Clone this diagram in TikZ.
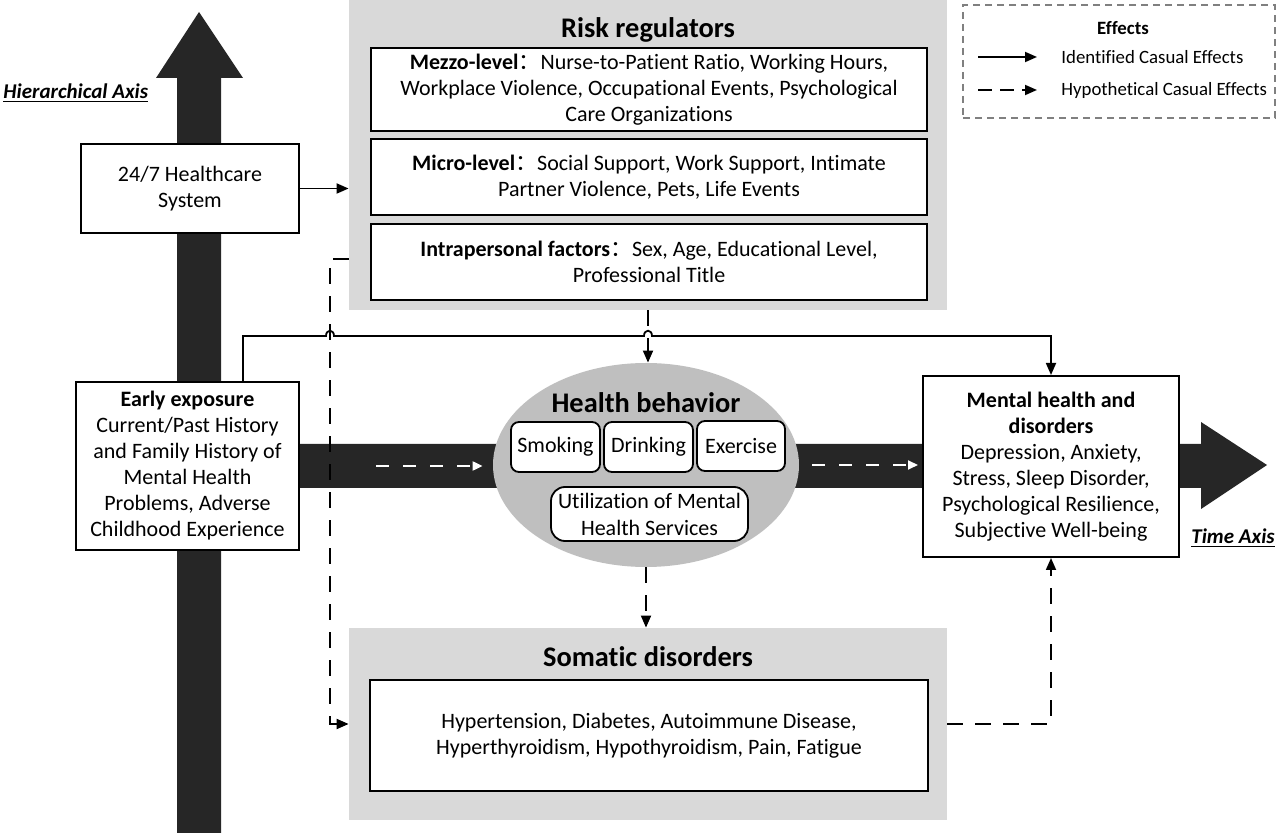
\documentclass[tikz,border=0pt]{standalone}
\usepackage{fontspec}
\setmainfont{Carlito}[Ligatures=NoCommon]
\newfontfamily\cjk{Noto Sans CJK SC}
\usepackage{tikz}
\usetikzlibrary{arrows.meta,calc,shapes.geometric}
\definecolor{axisdark}{RGB}{38,38,38}
\definecolor{regbg}{RGB}{217,217,217}
\definecolor{hbbg}{RGB}{191,191,191}
\definecolor{legendline}{RGB}{128,128,128}

\begin{document}
\begin{tikzpicture}[x=0.5pt,y=0.5pt,yscale=-1,xscale=1,
  box/.style={draw,fill=white,line width=1pt,align=center,inner sep=0pt,font=\fontsize{11}{13}\selectfont},
  panel/.style={fill=regbg,inner sep=0pt},
  pill/.style={draw,fill=white,line width=0.9pt,rounded corners=4pt,align=center,inner sep=0pt,font=\fontsize{11}{13.5}\selectfont},
  paneltitle/.style={font=\fontsize{14.2}{16}\selectfont\bfseries},
  link/.style={line width=0.9pt,-{Triangle[length=6pt,width=5pt]}},
  hypo/.style={link,dash pattern=on 8pt off 6pt},
  wlink/.style={white,line width=1pt,dash pattern=on 6.5pt off 7pt,-{Triangle[length=5pt,width=4.5pt]}},
  axislabel/.style={anchor=west,inner sep=0pt,font=\fontsize{10.5}{12}\selectfont\bfseries\itshape},
  legtext/.style={anchor=west,inner sep=0pt,font=\fontsize{9.4}{11}\selectfont}]
\useasboundingbox (0,0) rectangle (1280,833);

%Hierarchical axis arrow
\fill[axisdark] (177,833) -- (177,78) -- (156,78) -- (199,12) -- (243,78) -- (221,78) -- (221,833) -- cycle;
%Time axis arrow
\fill[axisdark] (290,444) -- (1201,444) -- (1201,422) -- (1267,465) -- (1201,509) -- (1201,488) -- (290,488) -- cycle;

% Axis labels
\node[axislabel] (haxis) at (3,93) {\underline{Hierarchical Axis}};
\node[axislabel] (taxis) at (1191,538) {\underline{Time Axis}};

% Risk regulators
\node[panel,minimum width=299pt,minimum height=155pt] (risk) at (648,155) {};
\node[paneltitle] (risktitle) at (648,30) {Risk regulators};
\node[box,minimum width=278pt,minimum height=41.5pt] (mezzo) at (649,89.5) {\textbf{Mezzo-level}{\cjk ：}Nurse-to-Patient Ratio, Working Hours,\\Workplace Violence, Occupational Events, Psychological\\Care Organizations};
\node[box,minimum width=278pt,minimum height=38pt] (micro) at (649,177) {\textbf{Micro-level}{\cjk ：}Social Support, Work Support, Intimate\\Partner Violence, Pets, Life Events};
\node[box,minimum width=278pt,minimum height=38pt] (intra) at (649,262) {\textbf{Intrapersonal factors}{\cjk ：}Sex, Age, Educational Level,\\Professional Title};

% Text Node
\node[box,minimum width=109pt,minimum height=44.5pt] (hcs) at (190,188.5) {24/7 Healthcare\\System};
% Text Node
\node[box,minimum width=111.5pt,minimum height=84pt] (early) at (187.5,466) {\textbf{Early exposure}\\Current/Past History\\and Family History of\\Mental Health\\Problems, Adverse\\Childhood Experience};

% Health behavior
\node[ellipse,fill=hbbg,minimum width=153pt,minimum height=102pt,inner sep=0pt] (hb) at (646,465) {};
\node[paneltitle] (hbtitle) at (646,403) {Health behavior};
\node[pill,minimum width=44.5pt,minimum height=25pt] (smoking) at (555.5,447) {Smoking};
\node[pill,minimum width=44.5pt,minimum height=25pt] (drinking) at (648.5,447) {Drinking};
\node[pill,minimum width=44pt,minimum height=25pt] (exercise) at (741,446) {Exercise};
\node[pill,minimum width=98.5pt,minimum height=27pt,rounded corners=7pt] (util) at (649.5,514) {Utilization of Mental\\Health Services};

% Text Node
\node[box,minimum width=128pt,minimum height=90.5pt] (mental) at (1051,466.5) {\textbf{Mental health and}\\\textbf{disorders}\\Depression, Anxiety,\\Stress, Sleep Disorder,\\Psychological Resilience,\\Subjective Well-being};

% Somatic disorders
\node[panel,minimum width=299pt,minimum height=96pt] (soma) at (648,724) {};
\node[paneltitle] (somatitle) at (648,657) {Somatic disorders};
\node[box,minimum width=279pt,minimum height=55.5pt] (somabox) at (649,735.5) {Hypertension, Diabetes, Autoimmune Disease,\\Hyperthyroidism, Hypothyroidism, Pain, Fatigue};

% Legend
\node[draw=legendline,dash pattern=on 3.5pt off 2.5pt,line width=0.7pt,minimum width=156pt,minimum height=56.5pt,inner sep=0pt] (legend) at (1119,61.5) {};
\node[inner sep=0pt,font=\fontsize{9.4}{11}\selectfont\bfseries] (efftitle) at (1123,28) {Effects};
\node[legtext] (idf) at (1061,57) {Identified Casual Effects};
\node[legtext] (hyp) at (1061,90) {Hypothetical Casual Effects};
\draw[link] ([xshift=-41.5pt]idf.west) -- ([xshift=-12pt]idf.west);
\draw[hypo,dash pattern=on 7pt off 4pt] ([xshift=-41.5pt]hyp.west) -- ([xshift=-12pt]hyp.west);

%Straight Lines
\draw[link] (hcs.east) -- (hcs.east -| risk.west);
\coordinate (d1) at (330,259);
\draw[hypo] (d1 -| risk.west) -- (d1) -- (d1 |- soma.west) -- (soma.west);
\draw[hypo] (risk.south) -- (risk.south |- hb.north);
\coordinate (j1) at (243,336);
\coordinate (j2) at (1051,336);
\draw[link] (j1 |- early.north) -- (j1) -- (326,336) .. controls (326,329) and (334,329) .. (334,336) -- (644,336) .. controls (644,329) and (652,329) .. (652,336) -- (j2) -- (j2 |- mental.north);
\draw[hypo] (hb.south) -- (hb.south |- soma.north);
\coordinate (d2) at (1051,724);
\draw[hypo] (soma.east) -- (d2) -- (d2 |- mental.south);
\draw[wlink,shorten <=38pt,shorten >=5pt] (early.east) -- (early.east -| hb.west);
\draw[wlink,shorten <=6.5pt,shorten >=2pt] (hb.east) -- (hb.east -| mental.west);

\end{tikzpicture}
\end{document}
